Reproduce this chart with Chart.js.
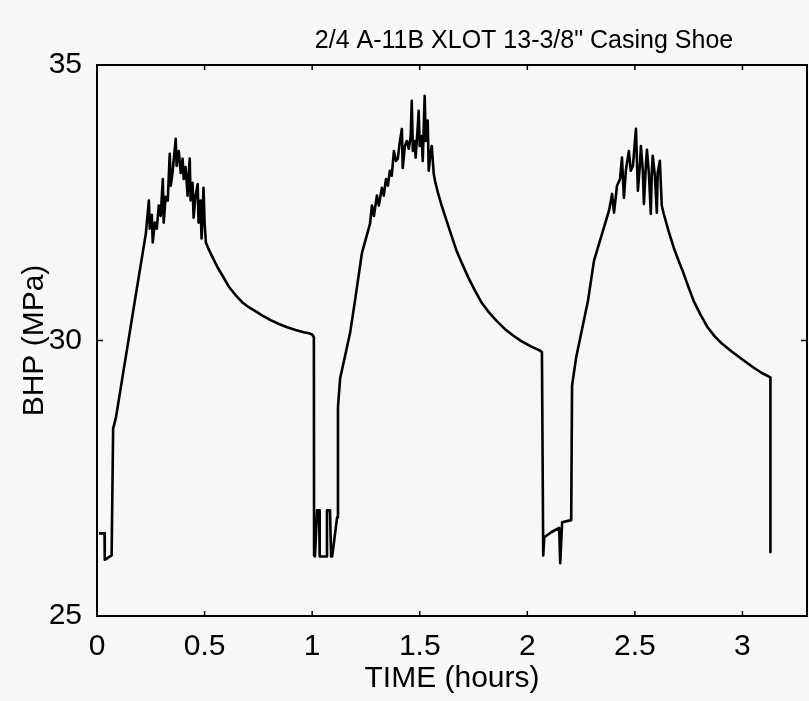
<!DOCTYPE html>
<html lang="en">
<head>
    <meta charset="UTF-8">
    <title>XLOT 13-3/8 Casing Shoe</title>
    <script src="https://cdn.jsdelivr.net/npm/chart.js"></script>
    <style>
        body { margin: 0; background: #f7f7f7; }
        .grafico { position: relative; width: 809px; height: 701px; }
    </style>
</head>
<body>

<!-- GRAFICO -->
  <div class="grafico">
      <canvas id="graficoBHP"></canvas>
  </div>

<script>
    // dados: tempo (horas) e BHP (MPa)
    const tempoHoras = [
        0.009, 0.035, 0.036, 0.068, 0.075, 0.088, 0.176, 0.227,
        0.241, 0.245, 0.255, 0.259, 0.269, 0.278, 0.287, 0.296, 0.306, 0.310,
        0.319, 0.329, 0.338, 0.343, 0.352, 0.356, 0.366, 0.370, 0.380, 0.389,
        0.398, 0.403, 0.412, 0.421, 0.431, 0.435, 0.444, 0.449, 0.458, 0.468,
        0.472, 0.481, 0.486, 0.495, 0.500, 0.506,
        0.522, 0.537, 0.560, 0.583, 0.614, 0.645, 0.676, 0.707, 0.738, 0.769,
        0.807, 0.846, 0.884, 0.923, 0.961, 0.985, 1.000, 1.008,
        1.009, 1.013, 1.023, 1.032, 1.035, 1.065, 1.069, 1.083, 1.088, 1.093,
        1.116, 1.120, 1.130, 1.176, 1.199, 1.231, 1.269,
        1.278, 1.287, 1.301, 1.310, 1.324, 1.333, 1.343, 1.352, 1.361, 1.370,
        1.380, 1.389, 1.398, 1.407, 1.417, 1.421, 1.431, 1.440, 1.449, 1.458,
        1.463, 1.468, 1.477, 1.481, 1.491, 1.495, 1.500, 1.509, 1.514, 1.523,
        1.528, 1.537, 1.542, 1.551, 1.556, 1.565, 1.571,
        1.586, 1.602, 1.625, 1.648, 1.671, 1.694, 1.725, 1.756, 1.787, 1.818,
        1.856, 1.895, 1.934, 1.972, 2.019, 2.057, 2.068,
        2.074, 2.079, 2.111, 2.148, 2.153, 2.162, 2.204, 2.208, 2.227, 2.282,
        2.310, 2.380,
        2.394, 2.403, 2.417, 2.431, 2.440, 2.449, 2.458, 2.472, 2.481, 2.491,
        2.505, 2.514, 2.523, 2.528, 2.537, 2.542, 2.551, 2.556, 2.565, 2.574,
        2.579, 2.583, 2.593, 2.602, 2.606, 2.616, 2.620, 2.625, 2.634,
        2.657, 2.681, 2.704, 2.727, 2.750, 2.773, 2.805, 2.838, 2.870, 2.903,
        2.950, 2.995, 3.051, 3.090, 3.130, 3.130
    ];

    const bhpMPa = [
        26.50, 26.50, 26.02, 26.10, 28.40, 28.60, 30.72, 31.94,
        32.54, 32.03, 32.28, 31.78, 32.14, 32.03, 32.45, 32.26, 32.93, 32.14,
        32.61, 32.54, 33.39, 32.81, 33.08, 33.26, 33.66, 33.17, 33.44, 33.04,
        33.30, 32.93, 33.15, 32.63, 33.30, 32.54, 32.86, 32.23, 32.63, 32.84,
        32.14, 32.54, 31.85, 32.77, 32.14, 31.78,
        31.63, 31.51, 31.33, 31.18, 30.97, 30.82, 30.69, 30.60, 30.53, 30.45,
        30.37, 30.30, 30.24, 30.19, 30.15, 30.13, 30.11, 30.06,
        26.10, 26.08, 26.92, 26.92, 26.08, 26.08, 26.92, 26.92, 26.08, 26.08,
        26.79, 28.79, 29.31, 30.13, 30.72, 31.58, 32.12,
        32.45, 32.26, 32.63, 32.45, 32.77, 32.63, 32.93, 32.81, 33.08, 32.99,
        33.44, 33.26, 33.30, 33.59, 33.84, 33.13, 33.53, 33.62, 33.48, 33.71,
        34.35, 33.44, 33.62, 33.32, 33.89, 34.17, 33.53, 33.71, 33.26, 34.44,
        33.62, 33.99, 33.08, 33.44, 33.53, 33.03, 32.90,
        32.66, 32.45, 32.17, 31.90, 31.63, 31.42, 31.15, 30.91, 30.69, 30.53,
        30.36, 30.21, 30.09, 29.99, 29.89, 29.82, 29.79,
        26.10, 26.43, 26.52, 26.60, 25.96, 26.70, 26.74, 29.18, 29.69, 30.72,
        31.45, 32.36,
        32.66, 32.32, 32.81, 32.93, 33.32, 32.59, 33.08, 33.44, 33.08, 33.17,
        33.84, 32.72, 33.17, 33.53, 33.08, 32.48, 33.17, 33.46, 33.04, 32.30,
        33.08, 33.35, 32.99, 32.32, 33.04, 33.26, 32.90, 32.45, 32.30,
        31.98, 31.68, 31.44, 31.21, 30.96, 30.72, 30.47, 30.24, 30.08, 29.95,
        29.80, 29.67, 29.51, 29.41, 29.33, 26.16
    ];

    const ticksX = [0, 0.5, 1, 1.5, 2, 2.5, 3];
    const ticksY = [25, 30, 35];

    const tituloGrafico = '2/4 A-11B XLOT 13-3/8" Casing Shoe';
    const fonte = '"Liberation Sans", Arial, sans-serif';

    // moldura com tracinhos para dentro + titulo (deslocado como no original)
    const moldura = {
        id: 'moldura',
        afterDraw(chart) {
            const { ctx, chartArea: a, scales } = chart;
            ctx.save();
            ctx.strokeStyle = '#000';
            ctx.lineWidth = 2;
            ctx.strokeRect(a.left, a.top, a.right - a.left, a.bottom - a.top);

            ctx.lineWidth = 1.5;
            ctx.beginPath();
            scales.x.ticks.forEach(function (t) {
                const px = scales.x.getPixelForValue(t.value);
                ctx.moveTo(px, a.bottom); ctx.lineTo(px, a.bottom - 5);
                ctx.moveTo(px, a.top); ctx.lineTo(px, a.top + 5);
            });
            scales.y.ticks.forEach(function (t) {
                const py = scales.y.getPixelForValue(t.value);
                ctx.moveTo(a.left, py); ctx.lineTo(a.left + 6, py);
                ctx.moveTo(a.right, py); ctx.lineTo(a.right - 6, py);
            });
            ctx.stroke();

            ctx.fillStyle = '#000';
            ctx.font = '25px ' + fonte;
            ctx.textAlign = 'center';
            ctx.textBaseline = 'alphabetic';
            ctx.fillText(tituloGrafico, 524, 48);
            ctx.restore();
        }
    };

    let pontos = [];
    for (let i = 0; i < tempoHoras.length; i++) {
        pontos.push({ x: tempoHoras[i], y: bhpMPa[i] });
    }

    const config = {
        type: 'line',
        data: {
            datasets: [{
                label: 'BHP',
                data: pontos,
                borderColor: '#000',
                borderWidth: 2.6,
                borderJoinStyle: 'round',
                pointRadius: 0,
                tension: 0,
                fill: false
            }]
        },
        options: {
            responsive: true,
            maintainAspectRatio: false,
            animation: false,
            layout: { padding: { top: 65, right: 2, left: 0, bottom: 0 } },
            plugins: {
                legend: { display: false },
                tooltip: { enabled: false }
            },
            scales: {
                x: {
                    type: 'linear',
                    min: 0,
                    max: 3.3,
                    afterFit: function (s) { s.height = 85; },
                    afterBuildTicks: function (s) { s.ticks = ticksX.map(v => ({ value: v })); },
                    grid: { display: false },
                    border: { display: false },
                    ticks: {
                        color: '#000',
                        padding: 5,
                        maxRotation: 0,
                        callback: function (v) { return String(v); },
                        font: { family: fonte, size: 30 }
                    },
                    title: {
                        display: true,
                        text: 'TIME (hours)',
                        color: '#000',
                        padding: { top: 0, bottom: 4 },
                        font: { family: fonte, size: 30 }
                    }
                },
                y: {
                    min: 25,
                    max: 35,
                    afterFit: function (s) { s.width = 97; },
                    afterBuildTicks: function (s) { s.ticks = ticksY.map(v => ({ value: v })); },
                    grid: { display: false },
                    border: { display: false },
                    ticks: {
                        color: '#000',
                        padding: 7,
                        callback: function (v) { return String(v); },
                        font: { family: fonte, size: 30 }
                    },
                    title: {
                        display: true,
                        text: 'BHP (MPa)',
                        color: '#000',
                        padding: { top: 17, bottom: 0 },
                        font: { family: fonte, size: 30 }
                    }
                }
            }
        },
        plugins: [moldura]
    };

    let graficoBHP = new Chart(document.getElementById('graficoBHP'), config);
</script>
</body>
</html>
